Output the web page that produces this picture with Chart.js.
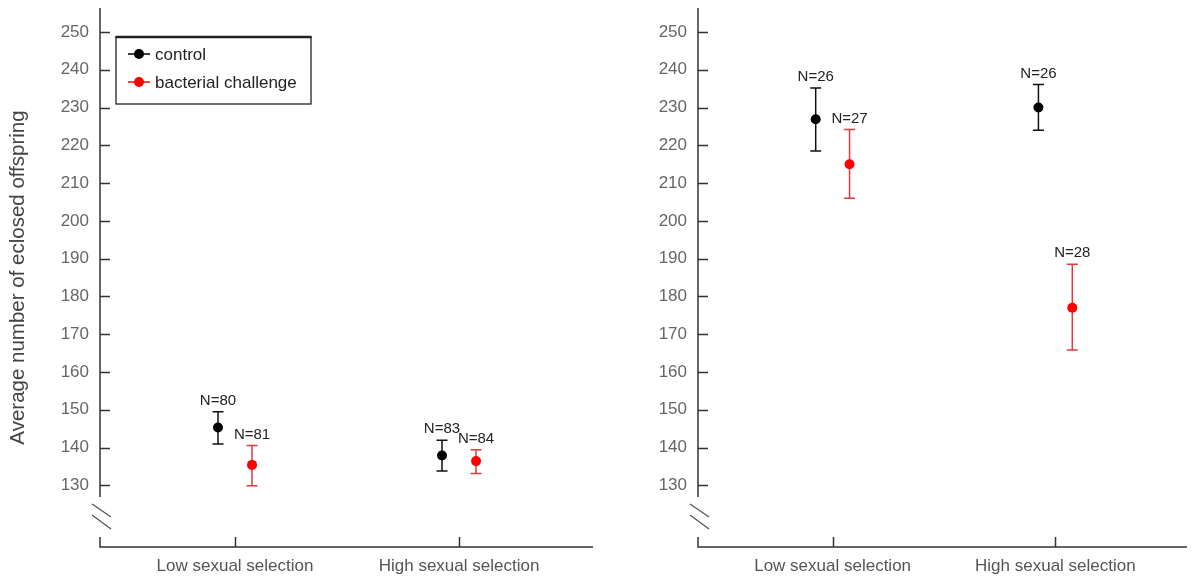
<!DOCTYPE html>
<html><head><meta charset="utf-8">
<script src="https://cdn.jsdelivr.net/npm/chart.js@4/dist/chart.umd.min.js"></script>
<style>
html,body{margin:0;padding:0;background:#fff;overflow:hidden}
#wrap{position:relative;width:1192px;height:579px}
canvas{position:absolute;top:0}
</style></head>
<body><div id="wrap">
<canvas id="c1" width="600" height="579" style="left:0;width:600px;height:579px"></canvas>
<canvas id="c2" width="592" height="579" style="left:600px;width:592px;height:579px"></canvas>
</div>
<script>
// ---------- data ----------
const categories = ['Low sexual selection', 'High sexual selection'];
const seriesNames = ['control', 'bacterial challenge'];
const yTicks = [130, 140, 150, 160, 170, 180, 190, 200, 210, 220, 230, 240, 250];
const yTitle = 'Average number of eclosed offspring';

// left panel
const leftControlMean = [145.3, 137.9];
const leftControlLow  = [140.9, 133.8];
const leftControlHigh = [149.5, 141.9];
const leftControlN    = [80, 83];
const leftBactMean = [135.4, 136.4];
const leftBactLow  = [129.9, 133.1];
const leftBactHigh = [140.5, 139.4];
const leftBactN    = [81, 84];

// right panel
const rightControlMean = [226.9, 230.0];
const rightControlLow  = [218.5, 224.0];
const rightControlHigh = [235.2, 236.1];
const rightControlN    = [26, 26];
const rightBactMean = [215.0, 177.0];
const rightBactLow  = [206.0, 165.8];
const rightBactHigh = [224.2, 188.5];
const rightBactN    = [27, 28];

// ---------- style ----------
const FONT = "'Liberation Sans', Arial, sans-serif";
Chart.defaults.font.family = FONT;
const AXIS = '#333';
const BLACK = '#000';
const RED_PT = '#f00';
const RED_BAR = '#e23a3a';
const DX = 0.076;

function makeDatasets(cm, cl, ch, cn, bm, bl, bh, bn) {
  return [
    { label: seriesNames[0], data: cm.map((v, i) => ({x: i + 1 - DX, y: v})),
      lo: cl, hi: ch, n: cn, barColor: '#111', pointBackgroundColor: BLACK },
    { label: seriesNames[1], data: bm.map((v, i) => ({x: i + 1 + DX, y: v})),
      lo: bl, hi: bh, n: bn, barColor: RED_BAR, pointBackgroundColor: RED_PT }
  ];
}

const panelPlugin = {
  id: 'panel',
  beforeDatasetsDraw(chart) {
    const {ctx, chartArea: ca, scales: {x, y}} = chart;
    ctx.save();
    ctx.strokeStyle = AXIS;
    ctx.lineWidth = 1.5;
    // axis lines with break
    const ax = ca.left;
    const by = ca.bottom;
    ctx.beginPath();
    ctx.moveTo(ax, ca.top); ctx.lineTo(ax, by - 50);
    ctx.moveTo(ax, by - 10); ctx.lineTo(ax, by); ctx.lineTo(ca.right, by);
    ctx.stroke();
    // break marks
    ctx.strokeStyle = '#555';
    ctx.lineWidth = 1.3;
    ctx.beginPath();
    ctx.moveTo(ax - 8, by - 43); ctx.lineTo(ax + 11, by - 30);
    ctx.moveTo(ax - 8, by - 32); ctx.lineTo(ax + 11, by - 18);
    ctx.stroke();
    // tick marks (inward)
    ctx.strokeStyle = AXIS;
    ctx.lineWidth = 1.5;
    ctx.beginPath();
    y.ticks.forEach(t => {
      const py = Math.round(y.getPixelForValue(t.value)) + 0.5;
      ctx.moveTo(ax, py); ctx.lineTo(ax + 10, py);
    });
    x.ticks.forEach(t => {
      const px = Math.round(x.getPixelForValue(t.value)) + 0.5;
      ctx.moveTo(px, by); ctx.lineTo(px, by - 10);
    });
    ctx.stroke();
    // error bars
    chart.data.datasets.forEach(ds => {
      ctx.strokeStyle = ds.barColor;
      ctx.lineWidth = 1.5;
      ds.data.forEach((p, i) => {
        const px = x.getPixelForValue(p.x);
        const yl = y.getPixelForValue(ds.lo[i]);
        const yh = y.getPixelForValue(ds.hi[i]);
        ctx.beginPath();
        ctx.moveTo(px, yl); ctx.lineTo(px, yh);
        ctx.moveTo(px - 5.5, yl); ctx.lineTo(px + 5.5, yl);
        ctx.moveTo(px - 5.5, yh); ctx.lineTo(px + 5.5, yh);
        ctx.stroke();
      });
    });
    ctx.restore();
  },
  afterDraw(chart) {
    const {ctx, scales: {x, y}} = chart;
    const o = chart.options.plugins.panel;
    ctx.save();
    // N labels
    ctx.font = '15px ' + FONT;
    ctx.fillStyle = '#222';
    ctx.textAlign = 'center';
    ctx.textBaseline = 'middle';
    chart.data.datasets.forEach(ds => {
      ds.data.forEach((p, i) => {
        const px = x.getPixelForValue(p.x);
        const yh = y.getPixelForValue(ds.hi[i]);
        ctx.fillText('N=' + ds.n[i], px, yh - 11);
      });
    });
    // legend
    if (o.legend) {
      const L = 116, T = 37, W = 195, H = 67;
      ctx.strokeStyle = '#222';
      ctx.lineWidth = 1.3;
      ctx.strokeRect(L, T, W, H);
      ctx.lineWidth = 2.5;
      ctx.beginPath(); ctx.moveTo(L - 0.5, T); ctx.lineTo(L + W + 0.5, T); ctx.stroke();
      ctx.font = '17px ' + FONT;
      ctx.textAlign = 'left';
      chart.data.datasets.forEach((ds, k) => {
        const ly = T + 17 + k * 28;
        ctx.strokeStyle = k === 0 ? BLACK : RED_PT;
        ctx.lineWidth = 1.5;
        ctx.beginPath(); ctx.moveTo(L + 12, ly); ctx.lineTo(L + 34, ly); ctx.stroke();
        ctx.fillStyle = ds.pointBackgroundColor;
        ctx.beginPath(); ctx.arc(L + 23, ly, 5, 0, Math.PI * 2); ctx.fill();
        ctx.fillStyle = '#222';
        ctx.fillText(ds.label, L + 39, ly + 1);
      });
    }
    ctx.restore();
  }
};

function makeChart(id, datasets, cfg) {
  return new Chart(document.getElementById(id), {
    type: 'scatter',
    data: { datasets },
    plugins: [panelPlugin],
    options: {
      responsive: false,
      animation: false,
      events: [],
      layout: { padding: { top: 8, left: 0, right: cfg.padRight, bottom: 0 } },
      elements: { point: { radius: 5, borderWidth: 0, hoverRadius: 5 } },
      plugins: {
        legend: { display: false },
        tooltip: { enabled: false },
        panel: { legend: cfg.legend }
      },
      scales: {
        x: {
          type: 'linear', min: cfg.xmin, max: cfg.xmax,
          afterBuildTicks: s => { s.ticks = categories.map((c, i) => ({ value: i + 1 })); },
          ticks: { callback: v => categories[v - 1], color: '#555', font: { size: 17 }, padding: 9, autoSkip: false, maxRotation: 0 },
          grid: { display: false, drawTicks: false },
          border: { display: false },
          afterFit: s => { s.height = 32; s.paddingLeft = 0; s.paddingRight = 0; }
        },
        y: {
          type: 'linear', min: 113.66, max: 256.36,
          afterBuildTicks: s => { s.ticks = yTicks.map(v => ({ value: v })); },
          ticks: { color: '#666', font: { size: 17 }, padding: 11 },
          grid: { display: false, drawTicks: false },
          border: { display: false },
          title: { display: cfg.title, text: yTitle, color: '#444', font: { size: 20.5 }, padding: { top: 6, bottom: 0 } },
          afterFit: s => { s.width = cfg.yWidth; s.paddingTop = 0; s.paddingBottom = 0; }
        }
      }
    }
  });
}

makeChart('c1',
  makeDatasets(leftControlMean, leftControlLow, leftControlHigh, leftControlN,
               leftBactMean, leftBactLow, leftBactHigh, leftBactN),
  { xmin: 0.3973, xmax: 2.598, padRight: 7, yWidth: 100, title: true, legend: true });

makeChart('c2',
  makeDatasets(rightControlMean, rightControlLow, rightControlHigh, rightControlN,
               rightBactMean, rightBactLow, rightBactHigh, rightBactN),
  { xmin: 0.3956, xmax: 2.591, padRight: 0, yWidth: 98, title: false, legend: false });
</script>
</body></html>
